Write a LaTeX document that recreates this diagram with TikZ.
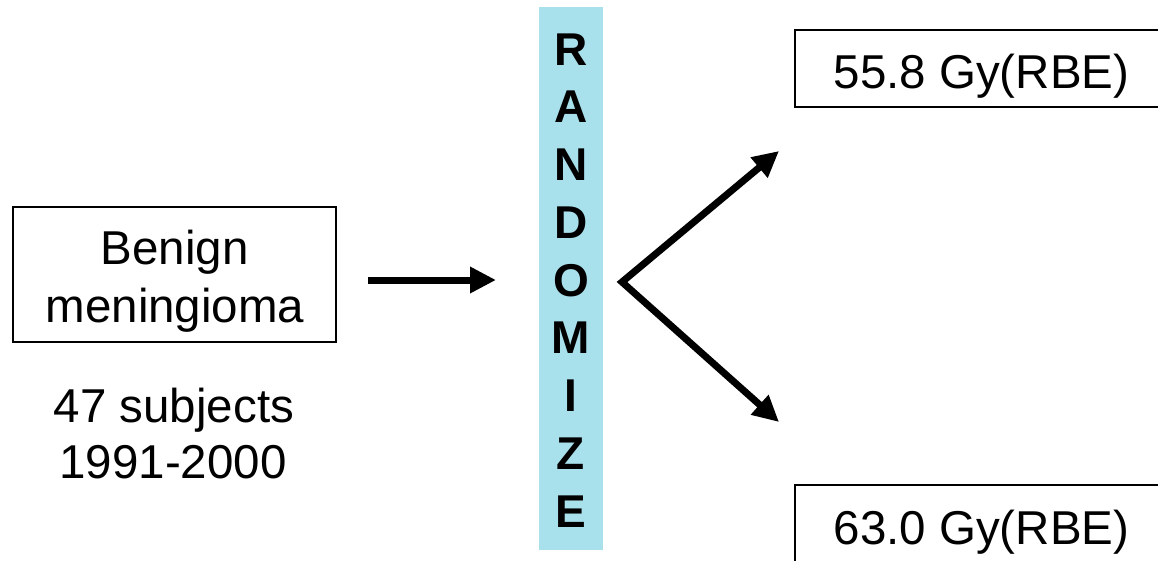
\documentclass[tikz,border=0pt]{standalone}
\usepackage{fontspec}
\setmainfont{Liberation Sans}
\usetikzlibrary{arrows.meta}
\definecolor{barblue}{RGB}{168,224,236}
\begin{document}
\begin{tikzpicture}[x=1pt,y=-1pt,
  box/.style={draw=black, line width=1.6pt, fill=white, inner sep=0pt},
  lbl/.style={font=\fontsize{47.5}{57}\selectfont, inner sep=0pt, anchor=base},
  letter/.style={font=\fontsize{46}{46}\selectfont\bfseries, inner sep=0pt, anchor=base},
  arr/.style={line width=7pt, -{Triangle[length=26pt,width=25pt]}},
  forkarr/.style={line width=7pt, line join=miter,
    {Triangle[length=26pt,width=25pt]}-{Triangle[length=26pt,width=25pt]}}]
\useasboundingbox (0,0) rectangle (1158,560);
\fill[white] (0,0) rectangle (1158,560);

% study population
\node[box, minimum width=323pt, minimum height=135pt] (benign) at (174.5,274.5) {};
\node[lbl] (benign1) at (174.5,264) {Benign};
\node[lbl] (benign2) at (175,322) {meningioma};
\node[lbl] (subj1) at (174,422) {47 subjects};
\node[lbl] (subj2) at (173,478) {1991-2000};

% randomisation bar
\node[fill=barblue, inner sep=0pt, minimum width=64pt, minimum height=543pt] (bar) at (571,278.5) {};
\foreach \ch [count=\i from 0] in {R,A,N,D,O,M,I,Z,E}
  \node[letter] (let\i) at (571,65+57.75*\i) {\ch};

% treatment arms
\node[box, minimum width=373pt, minimum height=77pt] (dose1) at (981.5,68.5) {};
\node[lbl] (dose1t) at (981.5,88) {55.8 Gy(RBE)};
\node[box, minimum width=373pt, minimum height=77pt] (dose2) at (981.5,523.5) {};
\node[lbl] (dose2t) at (981.5,544) {63.0 Gy(RBE)};

% arrows
\coordinate (a0) at (368,280);
\coordinate (a1) at (496,280);
\coordinate (fork) at (622,282);
\coordinate (up) at (779,151);
\coordinate (down) at (779,422);
\draw[arr] (a0) -- (a1);
\draw[forkarr] (up) -- (fork) -- (down);
\end{tikzpicture}
\end{document}
